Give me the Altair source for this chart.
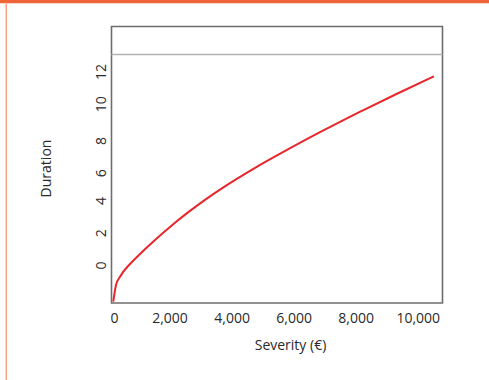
import altair as alt
import pandas as pd

# Curve values
severity = [58, 145, 274, 596, 854, 1402, 1941, 2466, 3014, 3594, 4561, 5657,
            6721, 7366, 8107, 9203, 10396]
duration = [-2.34, -1.30, -0.79, 0.00, 0.50, 1.49, 2.39, 3.20, 3.98, 4.74, 5.89,
            7.08, 8.18, 8.82, 9.53, 10.56, 11.64]

x_ticks = [0, 2000, 4000, 6000, 8000, 10000]
y_ticks = [0, 2, 4, 6, 8, 10, 12]
ref_level = [13.0]

FONT = "Open Sans"
TXT = "#2a2a2a"

curve_df = pd.DataFrame({"severity": severity, "duration": duration})
ref_df = pd.DataFrame({"y": ref_level})

x_scale = alt.Scale(domain=[0, 10670], nice=False, zero=False)
y_scale = alt.Scale(domain=[-2.42, 14.73], nice=False, zero=False)

x_axis = alt.Axis(
    title="Severity (€)", values=x_ticks, format=",d",
    ticks=False, tickSize=0, grid=False, domain=False,
    labelFont=FONT, labelFontSize=14, labelColor=TXT,
    labelBaseline="top", labelPadding=8,
    labelOffset=alt.condition("datum.value == 0", alt.value(2.5), alt.value(-4)),
    labelFlush=False,
    titleFont=FONT, titleFontSize=14, titleFontWeight="normal", titleColor=TXT,
    titleX=178.5, titleY=46, titleAlign="center", titleBaseline="alphabetic",
)

y_axis = alt.Axis(
    title="Duration", values=y_ticks, format="d",
    ticks=False, tickSize=0, grid=False, domain=False,
    labelFont=FONT, labelFontSize=14, labelColor=TXT,
    labelAngle=270, labelAlign="center", labelBaseline="alphabetic",
    labelPadding=6.5,
    labelOffset=alt.condition("datum.value == 6 || datum.value == 8", alt.value(5.5), alt.value(1)),
    labelFlush=False,
    titleFont=FONT, titleFontSize=14, titleFontWeight="normal", titleColor=TXT,
    titleAngle=270, titleX=-61.5, titleY=141.5, titleAlign="center",
    titleBaseline="alphabetic",
)

curve = alt.Chart(curve_df).mark_line(
    color="#e8262b", strokeWidth=2, interpolate="monotone"
).encode(
    x=alt.X("severity:Q", scale=x_scale, axis=x_axis),
    y=alt.Y("duration:Q", scale=y_scale, axis=y_axis),
)

ref = alt.Chart(ref_df).mark_rule(color="#b3b3b3", strokeWidth=1.5).encode(
    y=alt.Y("y:Q", scale=y_scale),
)

# Decorative page borders (orange) around the figure
top_border = alt.Chart(ref_df).mark_rule(color="#f0643a", strokeWidth=3.5).encode(
    x=alt.value(-112), x2=alt.value(378), y=alt.value(-25)
)
left_border = alt.Chart(ref_df).mark_rule(color="#f7a283", strokeWidth=1.5).encode(
    x=alt.value(-105.2), y=alt.value(-24), y2=alt.value(354)
)

chart = alt.layer(ref, curve, top_border, left_border).properties(
    width=331, height=276.5,
    autosize=alt.AutoSizeParams(type="none"),
    padding={"left": 111.5, "top": 26.5, "right": 46.5, "bottom": 77},
    background="white",
).configure_view(
    stroke="#6d6d6d", strokeWidth=1.6
)

chart.save("out.html", embed_options={"renderer": "svg", "actions": False})
